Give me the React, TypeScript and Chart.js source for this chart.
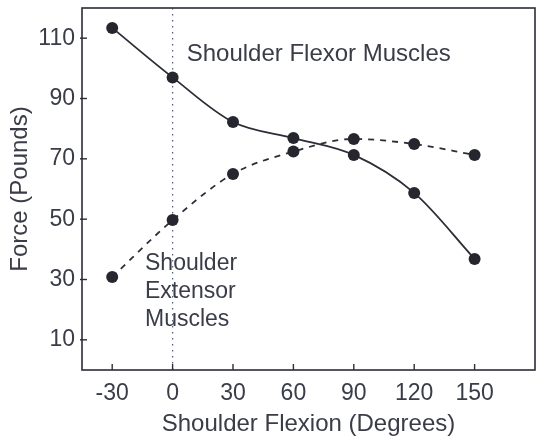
import React, { useEffect, useRef } from "react";
import { Chart, registerables } from "chart.js";

Chart.register(...registerables);

// ---- data ----
const angles = [-30, 0, 30, 60, 90, 120, 150];
const flexorForce = [113.4, 97, 82.2, 76.9, 71.3, 58.7, 36.8];
const extensorForce = [30.8, 49.7, 65, 72.4, 76.6, 74.9, 71.3];
const xTickValues = [-30, 0, 30, 60, 90, 120, 150];
const yTickValues = [10, 30, 50, 70, 90, 110];
const xTitle = "Shoulder Flexion (Degrees)";
const yTitle = "Force (Pounds)";
const flexorLabel = ["Shoulder Flexor Muscles"];
const extensorLabel = ["Shoulder", "Extensor", "Muscles"];

const FONT = "'Liberation Sans', Arial, Helvetica, sans-serif";
const INK = "#2c2d36";
const TEXT = "#3a3c48";

const framePlugin = {
  id: "frameAndNotes",
  beforeDatasetsDraw(chart: any) {
    const { ctx, chartArea: a, scales } = chart;
    ctx.save();
    // dotted reference line at 0 degrees
    const x0 = scales.x.getPixelForValue(0);
    ctx.strokeStyle = "#5a6078";
    ctx.lineWidth = 1.3;
    ctx.setLineDash([1.5, 4.5]);
    ctx.beginPath();
    ctx.moveTo(x0, a.top);
    ctx.lineTo(x0, a.bottom);
    ctx.stroke();
    ctx.setLineDash([]);
    // frame
    ctx.strokeStyle = INK;
    ctx.lineWidth = 1.6;
    ctx.strokeRect(a.left, a.top, a.right - a.left, a.bottom - a.top);
    // tick marks
    ctx.lineWidth = 1.4;
    xTickValues.forEach((v) => {
      const px = scales.x.getPixelForValue(v);
      ctx.beginPath();
      ctx.moveTo(px, a.bottom);
      ctx.lineTo(px, a.bottom - 6);
      ctx.stroke();
    });
    yTickValues.forEach((v) => {
      const py = scales.y.getPixelForValue(v);
      ctx.beginPath();
      ctx.moveTo(a.left - 2, py);
      ctx.lineTo(a.left + 5, py);
      ctx.stroke();
    });
    ctx.restore();
  },
  afterDatasetsDraw(chart: any) {
    const { ctx, scales } = chart;
    ctx.save();
    ctx.fillStyle = TEXT;
    ctx.textAlign = "left";
    ctx.textBaseline = "middle";
    ctx.font = `24px ${FONT}`;
    const fx = scales.x.getPixelForValue(7);
    const fy = scales.y.getPixelForValue(104.7);
    flexorLabel.forEach((t, i) => ctx.fillText(t, fx, fy + i * 28));
    ctx.font = `23px ${FONT}`;
    const ex = scales.x.getPixelForValue(-13.7);
    const ey = scales.y.getPixelForValue(35.3);
    extensorLabel.forEach((t, i) => ctx.fillText(t, ex, ey + i * 28));
    ctx.restore();
  },
};

export default function App() {
  const ref = useRef<HTMLCanvasElement | null>(null);

  useEffect(() => {
    document.body.style.margin = "0";
    const canvas = ref.current;
    if (!canvas) return;
    const chart = new Chart(canvas, {
      type: "line",
      data: {
        datasets: [
          {
            label: "Shoulder Flexor Muscles",
            data: angles.map((a, i) => ({ x: a, y: flexorForce[i] })),
            borderColor: INK,
            borderWidth: 1.8,
            pointRadius: 6,
            pointBackgroundColor: "#25262e",
            pointBorderWidth: 0,
            cubicInterpolationMode: "monotone",
            fill: false,
          },
          {
            label: "Shoulder Extensor Muscles",
            data: angles.map((a, i) => ({ x: a, y: extensorForce[i] })),
            borderColor: INK,
            borderWidth: 1.8,
            borderDash: [6, 6],
            pointRadius: 6,
            pointBackgroundColor: "#25262e",
            pointBorderWidth: 0,
            cubicInterpolationMode: "monotone",
            fill: false,
          },
        ],
      },
      options: {
        responsive: false,
        animation: false,
        layout: { padding: { top: 8, right: 6, left: 0, bottom: 0 } },
        plugins: { legend: { display: false }, tooltip: { enabled: false } },
        scales: {
          x: {
            type: "linear",
            min: -45,
            max: 180,
            afterBuildTicks: (s: any) => {
              s.ticks = xTickValues.map((v) => ({ value: v }));
            },
            afterFit: (s: any) => {
              s.height = 66;
              s.paddingLeft = 0;
              s.paddingRight = 0;
            },
            grid: { display: false, drawTicks: false },
            border: { display: false },
            ticks: {
              autoSkip: false,
              maxRotation: 0,
              padding: 10,
              color: TEXT,
              font: { family: FONT, size: 23 },
            },
            title: {
              display: true,
              text: xTitle,
              color: TEXT,
              font: { family: FONT, size: 24, lineHeight: 1 },
              padding: { top: 0, bottom: 0 },
            },
          },
          y: {
            type: "linear",
            min: 0,
            max: 120,
            afterBuildTicks: (s: any) => {
              s.ticks = yTickValues.map((v) => ({ value: v }));
            },
            afterFit: (s: any) => {
              s.width = 82;
              s.paddingTop = 0;
              s.paddingBottom = 0;
            },
            grid: { display: false, drawTicks: false },
            border: { display: false },
            ticks: {
              autoSkip: false,
              padding: 7,
              color: TEXT,
              font: { family: FONT, size: 23 },
            },
            title: {
              display: true,
              text: yTitle,
              color: TEXT,
              font: { family: FONT, size: 24, lineHeight: 1 },
              padding: { top: 8, bottom: 0 },
            },
          },
        },
      },
      plugins: [framePlugin],
    } as any);
    return () => chart.destroy();
  }, []);

  return (
    <div style={{ position: "fixed", left: 0, top: 0, width: 541, height: 436, background: "#fff" }}>
      <canvas ref={ref} width={541} height={436} style={{ display: "block" }} />
    </div>
  );
}
